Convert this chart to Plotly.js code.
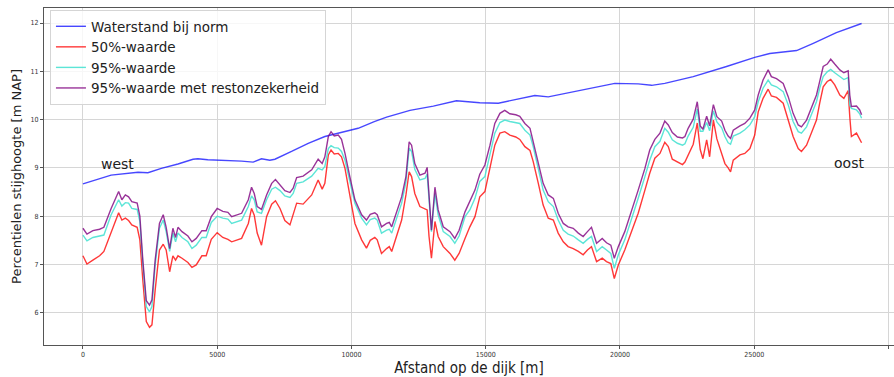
<!DOCTYPE html>
<html>
<head>
<meta charset="utf-8">
<script src="https://cdn.plot.ly/plotly-3.0.1.min.js"></script>
<style>html,body{margin:0;padding:0;background:#fff;}#chart{width:894px;height:377px;}</style>
</head>
<body>
<div id="chart"></div>
<script>
// Distance along the dike [m] for percentile series
const distance = [0,150,370,620,780,1050,1330,1450,1580,1700,1820,2020,2120,2230,2360,2480,2570,2690,2850,2990,3100,3230,3350,3450,3540,3690,3910,4060,4220,4430,4590,4780,5000,5210,5400,
5540,5910,6160,6280,6380,6490,6650,6840,7030,7170,7340,7520,7710,7830,7960,8200,8520,8760,8910,9010,9140,9240,9360,9510,9630,9760,9940,10130,10380,10560,10700,
10870,10960,11120,11310,11410,11500,11680,11870,12030,12150,12240,12360,12550,12740,12820,12890,12980,13110,13230,13420,13670,13850,14010,14230,14410,14600,14780,14970,15160,15340,15530,15710,15900,16120,
16270,16460,16650,16770,16960,17140,17330,17520,17700,17890,18070,18260,18450,18630,18790,18940,19130,19340,19500,19660,19790,19940,20180,20430,20680,20930,21110,21300,21490,
21670,21800,21950,22140,22330,22420,22540,22730,22880,22990,23090,23230,23340,23480,23610,23790,23910,24030,24120,24220,24470,24650,24840,25020,25150,25330,25520,25640,25830,26080,26270,26450,26640,26760,26950,27130,27320,27440,27570,27720,27850,28000,28190,28340,28500,28560,28620,28810,28930,29000];

const p95rest = [7.75,7.63,7.70,7.73,7.77,8.16,8.51,8.34,8.44,8.40,8.30,8.27,8.00,7.09,6.25,6.16,6.27,7.09,7.85,8.03,7.77,7.33,7.75,7.56,7.77,7.68,7.59,7.47,7.54,7.70,7.70,7.99,8.16,8.10,8.08,
7.99,8.06,8.34,8.60,8.47,8.20,8.14,8.44,8.68,8.76,8.65,8.53,8.49,8.58,8.80,8.83,8.96,9.18,9.09,9.23,9.65,9.75,9.66,9.68,9.59,9.30,8.82,8.34,8.03,7.92,8.04,
8.07,8.03,7.78,7.85,7.87,7.78,8.06,8.40,8.82,9.54,9.47,9.09,8.85,8.89,9.01,8.40,7.71,8.60,8.13,7.78,7.68,7.54,7.71,8.09,8.30,8.54,8.87,9.06,9.47,9.92,10.13,10.19,10.12,10.10,
10.07,9.92,9.82,9.54,9.09,8.68,8.44,8.37,8.06,7.85,7.78,7.75,7.65,7.58,7.68,7.77,7.44,7.54,7.45,7.40,7.13,7.37,7.68,8.09,8.54,8.99,9.37,9.59,9.72,
9.97,9.89,9.73,9.64,9.62,9.65,9.82,10.01,10.37,9.87,9.80,10.07,9.87,10.31,10.06,9.97,9.78,9.66,9.61,9.78,9.87,9.92,10.03,10.20,10.51,10.82,11.03,10.89,10.85,10.75,10.47,10.13,9.89,9.85,9.99,10.23,10.51,10.79,11.10,11.15,11.25,11.15,11.03,10.97,11.01,10.51,10.27,10.28,10.20,10.10];

const p95 = [7.61,7.49,7.56,7.59,7.61,8.03,8.34,8.21,8.28,8.27,8.16,8.14,7.89,7.02,6.13,6.02,6.13,6.99,7.75,7.92,7.68,7.27,7.65,7.47,7.65,7.56,7.47,7.33,7.40,7.56,7.56,7.87,8.00,7.96,7.94,
7.85,7.92,8.20,8.42,8.34,8.09,8.06,8.34,8.56,8.60,8.53,8.42,8.39,8.47,8.68,8.71,8.83,8.99,8.96,9.03,9.40,9.46,9.42,9.41,9.34,9.16,8.72,8.27,7.96,7.82,7.93,
7.96,7.92,7.65,7.71,7.73,7.65,7.94,8.27,8.71,9.41,9.34,8.97,8.75,8.78,8.87,8.30,7.68,8.47,8.03,7.68,7.58,7.44,7.59,7.99,8.13,8.37,8.72,8.82,9.30,9.72,9.94,9.99,9.96,9.94,
9.92,9.78,9.68,9.44,8.99,8.54,8.30,8.20,7.92,7.71,7.63,7.59,7.51,7.44,7.52,7.58,7.27,7.37,7.30,7.23,6.92,7.20,7.51,7.92,8.37,8.82,9.16,9.44,9.55,
9.82,9.74,9.58,9.51,9.47,9.50,9.66,9.84,10.22,9.76,9.76,9.94,9.77,10.18,9.95,9.83,9.65,9.52,9.49,9.66,9.72,9.79,9.89,10.06,10.37,10.65,10.82,10.72,10.68,10.58,10.30,9.96,9.75,9.72,9.85,10.09,10.37,10.65,10.89,10.99,11.04,10.97,10.89,10.83,10.87,10.30,10.23,10.20,10.12,10.03];

const p50 = [7.18,7.01,7.09,7.18,7.27,7.68,8.07,7.92,7.96,7.91,7.82,7.77,7.51,6.68,5.82,5.70,5.75,6.47,7.30,7.42,7.30,6.85,7.18,7.09,7.18,7.13,7.04,6.94,6.99,7.18,7.18,7.52,7.66,7.56,7.52,
7.47,7.54,7.85,8.16,8.02,7.65,7.40,7.99,8.25,8.32,8.16,7.91,7.82,8.06,8.27,8.25,8.44,8.75,8.56,8.68,9.27,9.37,9.29,9.30,9.23,8.99,8.41,7.85,7.51,7.34,7.50,
7.56,7.51,7.23,7.33,7.37,7.27,7.58,7.92,8.44,8.92,8.82,8.47,8.20,8.14,8.13,7.58,7.13,7.89,7.58,7.37,7.23,7.09,7.23,7.54,7.78,7.99,8.40,8.51,9.03,9.47,9.72,9.75,9.68,9.64,
9.59,9.44,9.36,9.13,8.68,8.23,7.96,7.92,7.65,7.47,7.37,7.33,7.27,7.20,7.30,7.37,7.06,7.13,7.06,7.02,6.71,6.99,7.30,7.68,8.06,8.54,8.89,9.20,9.30,
9.53,9.44,9.18,9.12,9.07,9.12,9.27,9.49,9.93,9.38,9.19,9.58,9.23,9.99,9.60,9.30,9.09,9.00,8.92,9.16,9.27,9.30,9.40,9.68,10.16,10.44,10.63,10.49,10.46,10.34,9.99,9.65,9.40,9.34,9.47,9.72,9.99,10.34,10.68,10.79,10.83,10.72,10.51,10.44,10.60,10.06,9.65,9.72,9.61,9.52];

// Water level at design norm
const blueDistance = [0,1050,2050,2420,2920,3540,4100,4280,4650,5300,5910,6340,6650,6960,7150,7770,8390,9010,9630,10250,10850,11310,12180,13050,13910,14780,15470,15900,16270,16830,17330,18570,19810,20680,21180,21670,22730,23970,25020,25580,26580,27200,28060,29000];
const waterstand = [8.67,8.85,8.91,8.90,8.99,9.08,9.18,9.19,9.17,9.16,9.14,9.12,9.19,9.16,9.18,9.34,9.51,9.65,9.73,9.82,9.96,10.05,10.19,10.28,10.39,10.35,10.34,10.39,10.43,10.50,10.47,10.61,10.75,10.74,10.71,10.75,10.89,11.10,11.29,11.37,11.43,11.58,11.80,11.99];

const seriesNames = ['Waterstand bij norm','50%-waarde','95%-waarde','95%-waarde met restonzekerheid'];
const xTicks = [0,5000,10000,15000,20000,25000,30000];
const yTicks = [6,7,8,9,10,11,12];

const lw = 1.4;
const traces = [
  {x: blueDistance, y: waterstand, name: seriesNames[0], mode:'lines', line:{color:'rgba(0,0,255,0.72)', width:lw}},
  {x: distance, y: p50, name: seriesNames[1], mode:'lines', line:{color:'rgba(255,0,0,0.78)', width:lw}},
  {x: distance, y: p95, name: seriesNames[2], mode:'lines', line:{color:'rgba(64,224,208,0.85)', width:lw}},
  {x: distance, y: p95rest, name: seriesNames[3], mode:'lines', line:{color:'rgba(128,0,128,0.8)', width:lw}}
];

const cond = '"DejaVu Sans Condensed", "Liberation Sans Narrow", "DejaVu Sans", sans-serif';
const layout = {
  width: 894, height: 377,
  margin: {l:44, r:0, t:8, b:32},
  paper_bgcolor:'#fff', plot_bgcolor:'#fff',
  font: {family:'"DejaVu Sans", sans-serif', color:'#222'},
  showlegend: true,
  legend: {x:0.007, y:0.994, xanchor:'left', yanchor:'top', bgcolor:'rgba(255,255,255,0.8)', bordercolor:'#d5d5d5', borderwidth:1, font:{size:13.5, color:'#222'}, itemwidth:30, tracegroupgap:0},
  xaxis: {
    range:[-1450, 30207], tickvals: xTicks, ticktext: xTicks.map(String),
    showgrid:true, gridcolor:'#d6d6d6', gridwidth:1, zeroline:false,
    showline:true, linecolor:'#555', linewidth:1, mirror:true,
    ticks:'outside', ticklen:3, tickcolor:'#555',
    tickfont:{size:7, family:cond, color:'#333'},
    title:{text:'Afstand op de dijk [m]', font:{size:15, family:cond, color:'#222'}, standoff:3}
  },
  yaxis: {
    range:[5.333, 12.311], tickvals: yTicks, ticktext: yTicks.map(String),
    showgrid:true, gridcolor:'#d6d6d6', gridwidth:1, zeroline:false,
    showline:true, linecolor:'#555', linewidth:1, mirror:true,
    ticks:'outside', ticklen:3, tickcolor:'#555',
    tickfont:{size:7, family:cond, color:'#333'},
    title:{text:'Percentielen stijghoogte [m NAP]', font:{size:13, color:'#222'}, standoff:6}
  },
  annotations: [
    {x:1270, y:9.08, xref:'x', yref:'y', text:'west', showarrow:false, font:{size:14, color:'#222'}},
    {x:28530, y:9.1, xref:'x', yref:'y', text:'oost', showarrow:false, font:{size:14, color:'#222'}}
  ]
};

Plotly.newPlot('chart', traces, layout, {displayModeBar:false, staticPlot:true});
</script>
</body>
</html>
